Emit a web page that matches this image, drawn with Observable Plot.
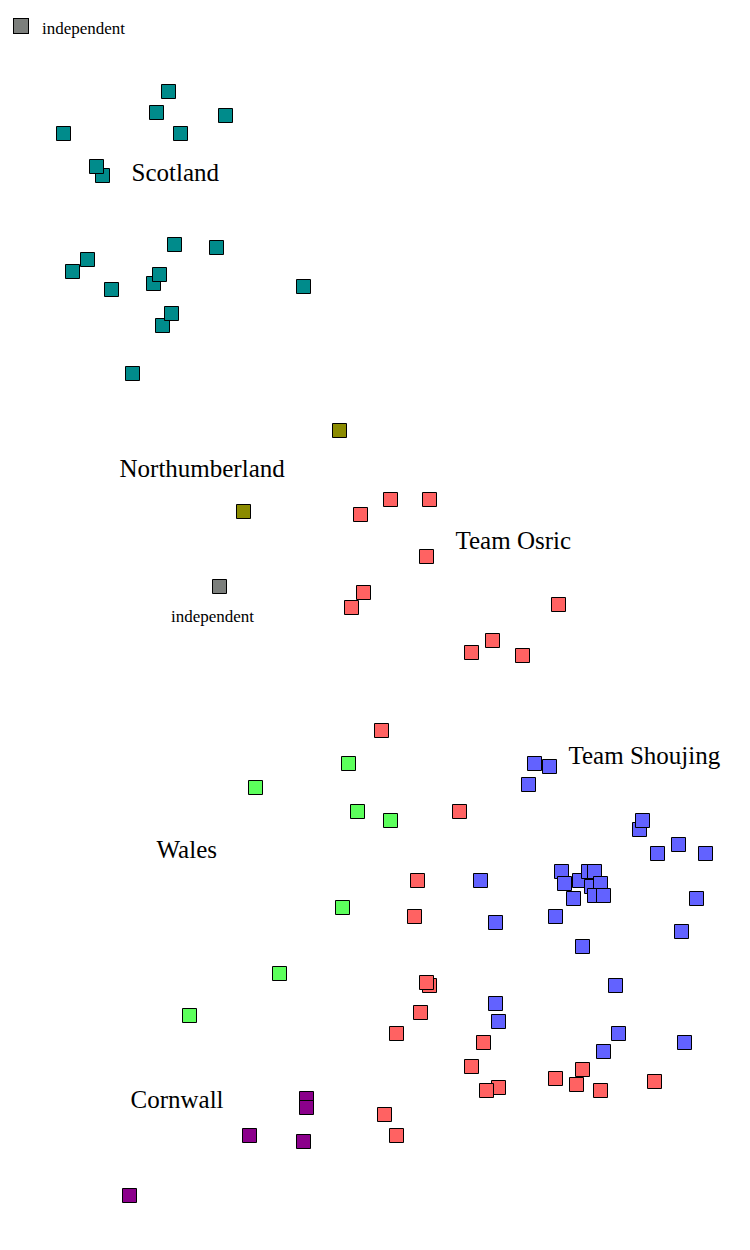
<!DOCTYPE html>
<html>
<head>
<meta charset="utf-8">
<script src="https://cdn.jsdelivr.net/npm/d3@7"></script>
<script src="https://cdn.jsdelivr.net/npm/@observablehq/plot@0.6"></script>
<style>
  html, body { margin: 0; padding: 0; background: #fff; }
  #wrap { position: relative; width: 750px; height: 1250px; }
  #legend { position: absolute; left: 13px; top: 13px; display: flex; align-items: center;
            font-family: "Liberation Serif", serif; font-size: 17px; }
  #legend .sw { width: 14px; height: 14px; border: 1px solid #000; }
  #legend span { margin-left: 13px; margin-top: 13px; }
</style>
</head>
<body>
<div id="wrap"><div id="legend"></div></div>
<script>
// Categories and colours
const teams = ["Scotland", "Northumberland", "independent", "Team Osric", "Team Shoujing", "Wales", "Cornwall"];
const teamColors = ["#008b8b", "#8b8b00", "#7c7f7c", "#ff6262", "#6262ff", "#5cff5c", "#8b008b"];

// Member positions (x, y) per team
const scotland = [[168,91],[156,112],[225,115],[63,133],[180,133],[102,175],[96,166],[174,244],[216,247],
  [87,259],[72,271],[153,283],[159,274],[111,289],[303,286],[162,325],[171,313],[132,373]];
const northumberland = [[339,430],[243,511]];
const independent = [[219,586]];
const osric = [[390,499],[429,499],[360,514],[426,556],[363,592],[351,607],[558,604],[492,640],[471,652],[522,655],
  [381,730],[459,811],[417,880],[414,916],[429,985],[426,982],[420,1012],[396,1033],[483,1042],[471,1066],
  [582,1069],[555,1078],[576,1084],[654,1081],[498,1087],[486,1090],[600,1090],[384,1114],[396,1135]];
const shoujing = [[534,763],[549,766],[528,784],[639,829],[642,820],[657,853],[678,844],[705,853],
  [561,871],[564,883],[579,880],[588,871],[594,871],[591,886],[600,883],[573,898],[594,895],[603,895],
  [480,880],[495,922],[555,916],[696,898],[681,931],[582,946],[615,985],[495,1003],[498,1021],[618,1033],
  [684,1042],[603,1051]];
const wales = [[348,763],[255,787],[357,811],[390,820],[342,907],[279,973],[189,1015]];
const cornwall = [[306,1098],[306,1107],[249,1135],[303,1141],[129,1195]];

// Team labels
const labelText = ["Scotland", "Northumberland", "Team Osric", "Team Shoujing", "Wales", "Cornwall"];
const labelX = [131, 119, 455, 568, 156, 130];
const labelY = [172, 468, 540, 755, 849, 1099];
const smallLabelText = ["independent"];
const smallLabelX = [212];
const smallLabelY = [616];

const groups = [scotland, northumberland, independent, osric, shoujing, wales, cornwall];
const points = groups.flatMap((g, i) => g.map(([x, y]) => ({team: teams[i], x, y})));
const labels = labelText.map((t, i) => ({t, x: labelX[i], y: labelY[i]}));
const smallLabels = smallLabelText.map((t, i) => ({t, x: smallLabelX[i], y: smallLabelY[i]}));

const chart = Plot.plot({
  width: 750,
  height: 1250,
  margin: 0,
  style: {background: "white", fontFamily: "Liberation Serif, serif"},
  x: {domain: [0, 750], range: [0, 750], axis: null},
  y: {domain: [0, 1250], range: [0, 1250], axis: null},
  color: {domain: teams, range: teamColors},
  marks: [
    Plot.dot(points, {x: "x", y: "y", symbol: "square", r: 14 / Math.sqrt(Math.PI),
      fill: "team", stroke: "#000", strokeWidth: 1, fillOpacity: 1}),
    Plot.text(labels, {x: "x", y: "y", text: "t", textAnchor: "start", fontSize: 25, fill: "#000"}),
    Plot.text(smallLabels, {x: "x", y: "y", text: "t", textAnchor: "middle", fontSize: 17, fill: "#000"})
  ]
});
document.getElementById("wrap").prepend(chart);

// Legend
const legend = document.getElementById("legend");
["independent"].forEach(t => {
  const sw = document.createElement("div");
  sw.className = "sw";
  sw.style.background = teamColors[teams.indexOf(t)];
  const sp = document.createElement("span");
  sp.textContent = t;
  sp.style.marginTop = "6px";
  legend.append(sw, sp);
});
</script>
</body>
</html>
